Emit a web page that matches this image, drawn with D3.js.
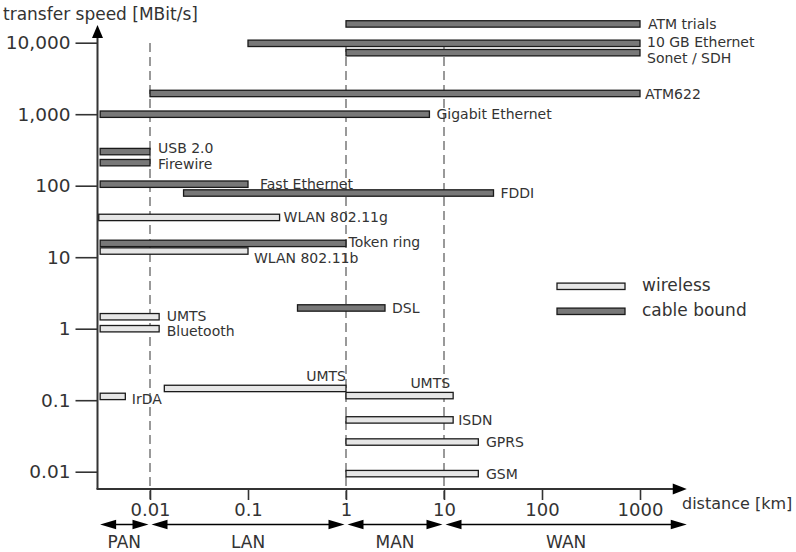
<!DOCTYPE html>
<html>
<head>
<meta charset="utf-8">
<script src="https://cdn.jsdelivr.net/npm/d3@7"></script>
<style>
  body { margin: 0; background: #fff; }
  svg text { font-family: "DejaVu Sans", sans-serif; fill: #333; }
</style>
</head>
<body>
<svg id="chart" width="796" height="552"></svg>
<script>

// --- data ---
var names = ["ATM trials", "10 GB Ethernet", "Sonet / SDH", "ATM622", "Gigabit Ethernet",
	"USB 2.0", "Firewire", "Fast Ethernet", "FDDI", "WLAN 802.11g", "Token ring",
	"WLAN 802.11b", "DSL", "UMTS", "Bluetooth", "IrDA", "UMTS", "UMTS", "ISDN", "GPRS", "GSM"];
var kinds = ["cable", "cable", "cable", "cable", "cable",
	"cable", "cable", "cable", "cable", "wireless", "cable",
	"wireless", "cable", "wireless", "wireless", "wireless", "wireless", "wireless", "wireless", "wireless", "wireless"];
var fromKm = [1, 0.1, 1, 0.01, 0.0031,
	0.0031, 0.0031, 0.0031, 0.022, 0.003, 0.0031,
	0.0031, 0.32, 0.0031, 0.0031, 0.0031, 0.014, 1, 1, 1, 1];
var toKm = [1000, 1000, 1000, 1000, 7.1,
	0.01, 0.01, 0.1, 32, 0.21, 1,
	0.1, 2.5, 0.0124, 0.0124, 0.0056, 1, 12.4, 12.4, 22.4, 22.4];
var speed = [18300, 9800, 7250, 1950, 1000,
	300, 210, 105, 79, 36, 15.6,
	12.2, 1.95, 1.47, 1, 0.113, 0.146, 0.116, 0.053, 0.026, 0.0094];

var yTicks = [0.01, 0.1, 1, 10, 100, 1000, 10000];
var yTickLabels = ["0.01", "0.1", "1", "10", "100", "1,000", "10,000"];
var xTicks = [0.01, 0.1, 1, 10, 100, 1000];
var xTickLabels = ["0.01", "0.1", "1", "10", "100", "1000"];
var dashedAt = [0.01, 1, 10];

var regionNames = ["PAN", "LAN", "MAN", "WAN"];
var regionFrom = [0.0031, 0.01, 1, 10];
var regionTo = [0.01, 1, 10, 3000];

var legendNames = ["wireless", "cable bound"];
var legendKinds = ["wireless", "cable"];

// label nudges (layout only): [dx, dy, anchor]
var nudge = {
	0: [8, 0], 1: [7, -1], 2: [7, 5], 3: [5, 0], 4: [7, 0],
	5: [8, -4], 6: [8, 1.5], 7: [12, 0], 8: [7, 0], 9: [4, 0], 10: [2.5, -1],
	11: [6, 7], 12: [7, 0], 13: [7.5, -1], 14: [7.5, 2.5], 15: [6.5, 2.5],
	16: [0, -12, "end"], 17: [-3, -12.5, "end"], 18: [5, 0], 19: [7.7, 0], 20: [7.7, 0]
};

var fill = { cable: "#787878", wireless: "#e6e6e6" };

var svg = d3.select("#chart");

var x = d3.scaleLog().domain([0.01, 1000]).range([150, 640]);
var y = d3.scaleLog().domain([0.01, 10000]).range([471.7, 42.7]);

var axisX0 = 97.5, axisY0 = 489;
var xEnd = x(3000), yTop = 25;
var barH = 6.4;

// dashed boundaries
svg.append("g").selectAll("line")
	.data(dashedAt)
	.enter().append("line")
	.attr("x1", function (d) { return x(d); })
	.attr("x2", function (d) { return x(d); })
	.attr("y1", 43)
	.attr("y2", 499)
	.attr("stroke", "#999")
	.attr("stroke-width", 2)
	.attr("stroke-dasharray", "9,5");

// y axis ticks + labels
var yAxis = d3.axisLeft(y)
	.tickValues(yTicks)
	.tickFormat(function (d, i) { return yTickLabels[i]; })
	.tickSize(22)
	.tickPadding(5);

var gy = svg.append("g")
	.attr("transform", "translate(" + axisX0 + ",0)")
	.call(yAxis);
gy.select(".domain").remove();
gy.selectAll("line").attr("stroke", "#333").attr("stroke-width", 1.6);
gy.selectAll("text").style("font-size", "18.5px").attr("fill", "#333")
	.style("font-family", "DejaVu Sans");

// x axis ticks + labels
var xAxis = d3.axisBottom(x)
	.tickValues(xTicks)
	.tickFormat(function (d, i) { return xTickLabels[i]; })
	.tickSize(11)
	.tickPadding(3);

var gx = svg.append("g")
	.attr("transform", "translate(0," + axisY0 + ")")
	.call(xAxis);
gx.select(".domain").remove();
gx.selectAll("line").attr("stroke", "#333").attr("stroke-width", 1.6);
gx.selectAll("text").style("font-size", "18px").attr("fill", "#333")
	.style("font-family", "DejaVu Sans");

// axis lines with arrow heads
svg.append("line")
	.attr("x1", axisX0).attr("x2", axisX0)
	.attr("y1", axisY0).attr("y2", yTop + 10)
	.attr("stroke", "#333").attr("stroke-width", 2);
svg.append("path")
	.attr("d", "M" + axisX0 + "," + yTop + "L" + (axisX0 - 5.5) + "," + (yTop + 13) +
		"L" + (axisX0 + 5.5) + "," + (yTop + 13) + "Z")
	.attr("fill", "#000");

svg.append("line")
	.attr("x1", axisX0 - 1).attr("x2", xEnd - 10)
	.attr("y1", axisY0).attr("y2", axisY0)
	.attr("stroke", "#333").attr("stroke-width", 2);
svg.append("path")
	.attr("d", "M" + xEnd + "," + axisY0 + "L" + (xEnd - 14) + "," + (axisY0 - 5.5) +
		"L" + (xEnd - 14) + "," + (axisY0 + 5.5) + "Z")
	.attr("fill", "#000");

// axis titles
svg.append("text")
	.attr("x", 3).attr("y", 20)
	.style("font-size", "17px")
	.text("transfer speed [MBit/s]");

svg.append("text")
	.attr("x", 682).attr("y", 509)
	.style("font-size", "16px")
	.text("distance [km]");

// region arrows
var ay = 524.5;
var regions = svg.append("g");
regionNames.forEach(function (name, i) {
	var x1 = (i == 0 ? x(regionFrom[i]) : x(regionFrom[i]) + 1.5);
	var x2 = (i == regionNames.length - 1 ? x(regionTo[i]) : x(regionTo[i]) - 1.5);
	regions.append("line")
		.attr("x1", x1 + 8).attr("x2", x2 - 8)
		.attr("y1", ay).attr("y2", ay)
		.attr("stroke", "#000").attr("stroke-width", 1.3);
	regions.append("path")
		.attr("d", "M" + x1 + "," + ay + "L" + (x1 + 16) + "," + (ay - 4.8) +
			"L" + (x1 + 16) + "," + (ay + 4.8) + "Z")
		.attr("fill", "#000");
	regions.append("path")
		.attr("d", "M" + x2 + "," + ay + "L" + (x2 - 16) + "," + (ay - 4.8) +
			"L" + (x2 - 16) + "," + (ay + 4.8) + "Z")
		.attr("fill", "#000");
	regions.append("text")
		.attr("x", (x1 + x2) / 2)
		.attr("y", ay + 23.5)
		.attr("text-anchor", "middle")
		.style("font-size", "17px")
		.text(name);
});

// bar labels (drawn under bars, as in the picture)
svg.append("g").selectAll("text")
	.data(names)
	.enter().append("text")
	.attr("x", function (d, i) { return x(toKm[i]) + nudge[i][0]; })
	.attr("y", function (d, i) { return y(speed[i]) + nudge[i][1]; })
	.attr("dy", "0.36em")
	.attr("text-anchor", function (d, i) { return nudge[i][2] || "start"; })
	.style("font-size", "14px")
	.text(function (d) { return d; });

// bars
svg.append("g").selectAll("rect")
	.data(names)
	.enter().append("rect")
	.attr("x", function (d, i) { return x(fromKm[i]); })
	.attr("y", function (d, i) { return y(speed[i]) - barH / 2; })
	.attr("width", function (d, i) { return x(toKm[i]) - x(fromKm[i]); })
	.attr("height", barH)
	.attr("fill", function (d, i) { return fill[kinds[i]]; })
	.attr("stroke", "#1a1a1a")
	.attr("stroke-width", 1.3);

// legend
var legend = svg.append("g");
legendNames.forEach(function (name, i) {
	var cy = 286.3 + i * 25;
	legend.append("rect")
		.attr("x", 557).attr("y", cy - barH / 2)
		.attr("width", 68).attr("height", barH)
		.attr("fill", fill[legendKinds[i]])
		.attr("stroke", "#1a1a1a")
		.attr("stroke-width", 1.3);
	legend.append("text")
		.attr("x", 642).attr("y", cy)
		.attr("dy", "0.3em")
		.style("font-size", "17px")
		.text(name);
});

</script>
</body>
</html>
